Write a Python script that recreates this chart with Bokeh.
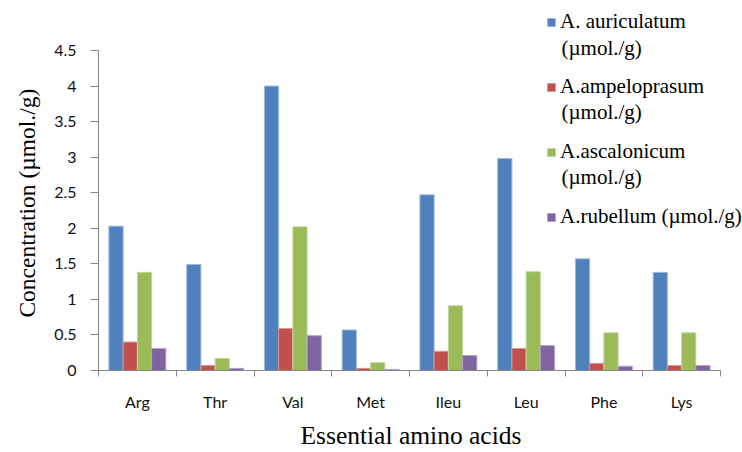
from bokeh.plotting import figure
from bokeh.models import FixedTicker, Legend, LegendItem, ColumnDataSource, Label
from bokeh.transform import dodge
from bokeh.embed import file_html
from bokeh.resources import INLINE

categories = ["Arg", "Thr", "Val", "Met", "Ileu", "Leu", "Phe", "Lys"]
auriculatum = [2.03, 1.49, 4.00, 0.57, 2.47, 2.98, 1.57, 1.38]
ampeloprasum = [0.40, 0.07, 0.59, 0.03, 0.27, 0.31, 0.10, 0.07]
ascalonicum = [1.38, 0.17, 2.02, 0.11, 0.91, 1.39, 0.53, 0.53]
rubellum = [0.31, 0.03, 0.49, 0.015, 0.21, 0.35, 0.06, 0.07]
series_names = ["A. auriculatum", "A.ampeloprasum", "A.ascalonicum", "A.rubellum (µmol./g)"]
unit_line = "(µmol./g)"
colors = ["#4F81BD", "#C0504D", "#9BBB59", "#8064A2"]
edge_colors = ["#9DB9DC", "#D99694", "#C3D69B", "#B3A2C7"]
yticks = [0, 0.5, 1, 1.5, 2, 2.5, 3, 3.5, 4, 4.5]
y_max = 4.5
x_title = "Essential amino acids"
y_title = "Concentration (µmol./g)"

W, H = 742, 452
left, bottom = 98, 82            # frame spans the top and right of the canvas
frame_w, frame_h = W - left, H - bottom
px_per_cat = 77.75               # category width in pixels
px_per_unit = 320 / y_max        # value axis scale in pixels
x_end = frame_w / px_per_cat
y_end = frame_h / px_per_unit
NBSP = "\u00a0"                  # padding to centre axis titles on the drawn axis lines

pos = [i + 0.5 for i in range(len(categories))]
src = ColumnDataSource(dict(x=pos, cat=categories, s0=auriculatum, s1=ampeloprasum,
                            s2=ascalonicum, s3=rubellum))

p = figure(width=W, height=H, x_range=(0, x_end), y_range=(0, y_end),
           output_backend="svg", toolbar_location=None,
           min_border_left=left, min_border_right=0, min_border_top=0, min_border_bottom=bottom)
p.outline_line_color = None
p.xgrid.grid_line_color = None
p.ygrid.grid_line_color = None
p.background_fill_color = "white"

bw = 0.183
renderers = []
for k, col in enumerate(["s0", "s1", "s2", "s3"]):
    r = p.vbar(x=dodge("x", (k - 1.5) * bw, range=p.x_range), top=col, width=bw, bottom=0,
               source=src, fill_color=colors[k], line_color=edge_colors[k], line_width=1)
    renderers.append(r)

# x axis: labels at category centres, tick marks at boundaries
p.xaxis.ticker = FixedTicker(ticks=pos, minor_ticks=list(range(len(categories) + 1)))
p.xaxis.bounds = (0, len(categories))
p.xaxis.major_label_overrides = {pv: c for pv, c in zip(pos, categories)}
p.xaxis.major_tick_out = 0
p.xaxis.major_tick_in = 0
p.xaxis.minor_tick_out = 6
p.xaxis.minor_tick_in = 0
p.xaxis.minor_tick_line_color = "#868686"
p.xaxis.axis_line_color = "#868686"
p.xaxis.major_label_text_font = "Lato"
p.xaxis.major_label_text_font_size = "16px"
p.xaxis.major_label_text_color = "#111111"
p.xaxis.major_label_standoff = 15
p.xaxis.axis_label = x_title + NBSP * 3
p.xaxis.axis_label_text_font = "Liberation Serif"
p.xaxis.axis_label_text_font_style = "normal"
p.xaxis.axis_label_text_font_size = "25.5px"
p.xaxis.axis_label_text_color = "black"
p.xaxis.axis_label_standoff = 7

p.yaxis.ticker = FixedTicker(ticks=yticks)
p.yaxis.bounds = (0, y_max)
p.yaxis.major_label_overrides = {v: ("%g" % v) for v in yticks}
p.yaxis.minor_tick_line_color = None
p.yaxis.major_tick_out = 8
p.yaxis.major_tick_in = 0
p.yaxis.major_tick_line_color = "#868686"
p.yaxis.axis_line_color = "#868686"
p.yaxis.major_label_text_font = "Lato"
p.yaxis.major_label_text_font_size = "16px"
p.yaxis.major_label_text_color = "#111111"
p.yaxis.major_label_standoff = 14
p.yaxis.axis_label = y_title + NBSP * 6
p.yaxis.axis_label_text_font = "Liberation Serif"
p.yaxis.axis_label_text_font_style = "normal"
p.yaxis.axis_label_text_font_size = "23.5px"
p.yaxis.axis_label_text_color = "black"
p.yaxis.axis_label_standoff = 11

# legend: glyph left edge 448px right of the frame's left; last row centre ~217px from the top
legend = Legend(items=[LegendItem(label=series_names[k], renderers=[renderers[k]]) for k in range(4)],
                location=(448, frame_h - 229), border_line_color=None, background_fill_alpha=0,
                label_text_font="Liberation Serif", label_text_font_size="21px",
                label_text_color="black", glyph_width=10, glyph_height=10,
                label_height=24, spacing=40, padding=0, margin=0, label_standoff=4)
p.add_layout(legend, "center")

for k in range(3):
    yc = 47 + k * 64.8  # pixel row of the unit line in the legend
    p.add_layout(Label(x=(561 - left) / px_per_cat, y=(frame_h - yc) / px_per_unit, text=unit_line,
                       text_font="Liberation Serif", text_font_size="21px", text_color="black",
                       text_baseline="middle", text_align="left"))

open("out.html", "w").write(file_html(p, INLINE))
